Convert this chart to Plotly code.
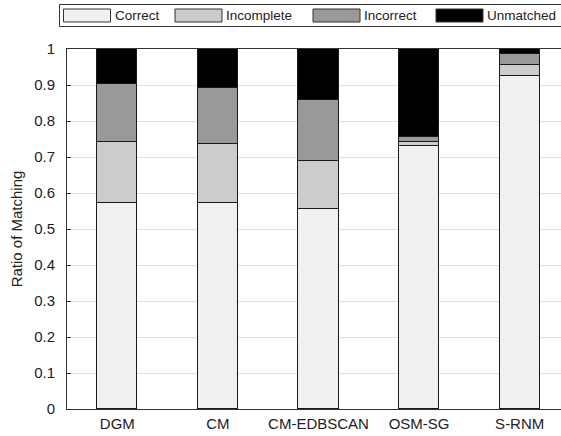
import plotly.graph_objects as go

# Matching outcome ratios per method (stacked to 1.0)
methods = ["DGM", "CM", "CM-EDBSCAN", "OSM-SG", "S-RNM"]
correct = [0.572, 0.572, 0.555, 0.730, 0.926]
incomplete = [0.169, 0.163, 0.134, 0.011, 0.030]
incorrect = [0.162, 0.156, 0.168, 0.015, 0.030]
unmatched = [0.097, 0.109, 0.143, 0.244, 0.014]

series_names = ["Correct", "Incomplete", "Incorrect", "Unmatched"]
series_values = [correct, incomplete, incorrect, unmatched]
series_colors = ["#f0f0f0", "#cccccc", "#999999", "#000000"]
y_ticks = [0, 0.1, 0.2, 0.3, 0.4, 0.5, 0.6, 0.7, 0.8, 0.9, 1]
y_tick_text = ["0", "0.1", "0.2", "0.3", "0.4", "0.5", "0.6", "0.7", "0.8", "0.9", "1"]

W, H = 561, 436
ML, MR, MT, MB = 67, 0, 49, 27
FONT = "Liberation Sans, Arial, sans-serif"
TXT = "#222222"

x_pos = list(range(1, len(methods) + 1))

fig = go.Figure()
for name, vals, col in zip(series_names, series_values, series_colors):
    fig.add_trace(go.Bar(
        x=x_pos, y=vals, name=name, width=0.4,
        marker=dict(color=col, line=dict(color="#1a1a1a", width=1)),
        showlegend=False,
    ))

# pixel -> paper helpers for the hand-drawn legend strip
pw = W - ML - MR
ph = H - MT - MB
def px(x):
    return (x - ML) / pw
def py(y):
    return (H - MB - y) / ph

shapes = [dict(type="rect", xref="paper", yref="paper",
               x0=px(59.5), x1=px(563), y0=py(4.5), y1=py(26.5),
               line=dict(color="#333333", width=1), fillcolor="white", layer="above")]
annotations = []
swatch_x = [63.5, 175, 313, 436]
for sx, name, col in zip(swatch_x, series_names, series_colors):
    shapes.append(dict(type="rect", xref="paper", yref="paper",
                       x0=px(sx), x1=px(sx + 47), y0=py(9), y1=py(22),
                       line=dict(color="#333333", width=1), fillcolor=col, layer="above"))
    annotations.append(dict(xref="paper", yref="paper", x=px(sx + 49), y=py(15.5),
                            text=name, showarrow=False, xanchor="left", yanchor="middle",
                            font=dict(family=FONT, size=13.5, color=TXT)))

fig.update_layout(
    width=W, height=H,
    margin=dict(l=ML, r=MR, t=MT, b=MB, pad=0),
    barmode="stack",
    bargap=0,
    plot_bgcolor="white", paper_bgcolor="white",
    font=dict(family=FONT, size=15, color=TXT),
    shapes=shapes, annotations=annotations,
    xaxis=dict(
        range=[0.5, 0.5 + pw / 100.6],
        tickmode="array", tickvals=x_pos, ticktext=methods,
        showgrid=False, zeroline=False,
        showline=True, linecolor="#333333", linewidth=1, mirror=True,
        ticks="", ticklabelstandoff=1,
        tickfont=dict(family=FONT, size=15, color=TXT),
    ),
    yaxis=dict(
        range=[0, 1],
        tickmode="array", tickvals=y_ticks, ticktext=y_tick_text,
        showgrid=True, gridcolor="#e0e0e0", gridwidth=1,
        zeroline=False,
        showline=True, linecolor="#333333", linewidth=1,
        ticks="inside", ticklen=4, tickcolor="#333333",
        ticklabelstandoff=8,
        tickfont=dict(family=FONT, size=15, color=TXT),
        title=dict(text="Ratio of Matching", standoff=7,
                   font=dict(family=FONT, size=15, color=TXT)),
    ),
)

fig.write_html("out.html")
